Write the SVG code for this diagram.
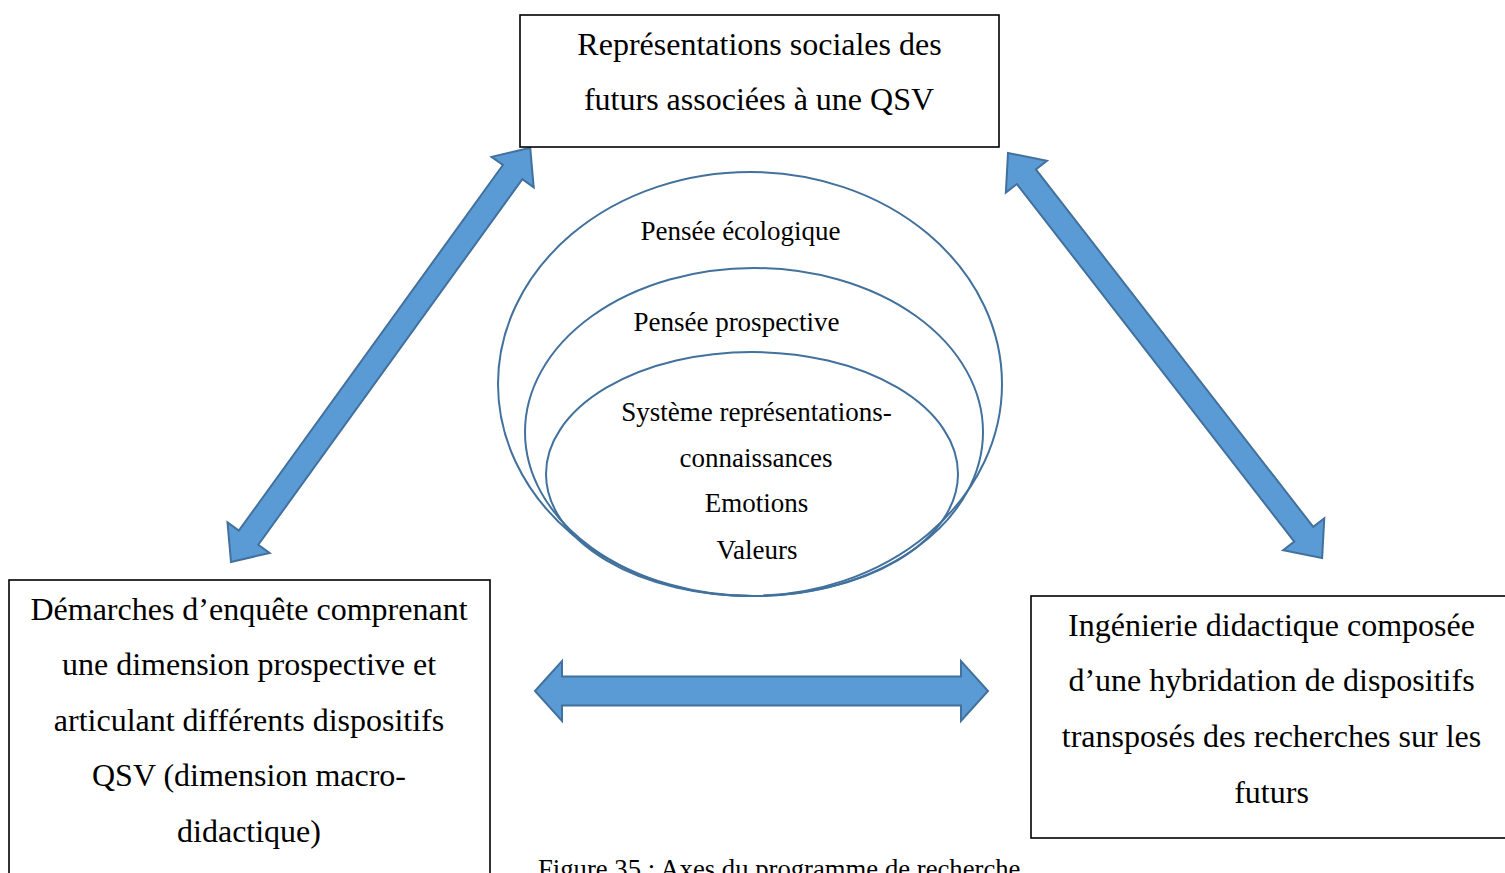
<svg xmlns="http://www.w3.org/2000/svg" width="1505" height="873" viewBox="0 0 1505 873">
<style>
.box{fill:#fff;stroke:#000;stroke-width:1.6}
.t{font-family:"Liberation Serif","Times New Roman",serif;fill:#000;text-anchor:middle}
.big{font-size:32px}
.small{font-size:27px}
.ell{fill:none;stroke:#41719C;stroke-width:2}
.arr{fill:#5B9BD5;stroke:#41719C;stroke-width:2;stroke-linejoin:miter}
</style>
<rect width="1505" height="873" fill="#fff"/>
<g id="connectors">
  <g transform="translate(231,562) rotate(-54.16)">
    <polygon class="arr" points="0,0 30,-26 30,-12 481,-12 481,-26 511,0 481,26 481,12 30,12 30,26"/>
  </g>
  <g transform="translate(1008,153) rotate(52.2)">
    <polygon class="arr" points="0,0 30,-26 30,-12 482.5,-12 482.5,-26 512.5,0 482.5,26 482.5,12 30,12 30,26"/>
  </g>
  <g transform="translate(535,691)">
    <polygon class="arr" points="0,0 27,-30 27,-14.5 426,-14.5 426,-30 453,0 426,30 426,14.5 27,14.5 27,30"/>
  </g>
</g>
<g id="node-top">
  <rect class="box" x="520" y="15" width="479" height="132"/>
  <text class="t big" x="759.5" y="55">Représentations sociales des</text>
  <text class="t big" x="759" y="110">futurs associées à une QSV</text>
</g>
<g id="node-center">
  <ellipse class="ell" cx="750" cy="384" rx="252" ry="212"/>
  <ellipse class="ell" cx="754" cy="432" rx="229" ry="164"/>
  <ellipse class="ell" cx="752" cy="474" rx="206" ry="122"/>
  <text class="t small" x="740.5" y="240">Pensée écologique</text>
  <text class="t small" x="736.5" y="331">Pensée prospective</text>
  <text class="t small" x="756.5" y="421">Système représentations-</text>
  <text class="t small" x="756" y="467">connaissances</text>
  <text class="t small" x="756.5" y="512">Emotions</text>
  <text class="t small" x="757" y="559">Valeurs</text>
</g>
<g id="node-left">
  <rect class="box" x="9" y="580" width="481" height="310"/>
  <text class="t big" x="249" y="620">Démarches d’enquête comprenant</text>
  <text class="t big" x="249" y="675">une dimension prospective et</text>
  <text class="t big" x="249" y="731">articulant différents dispositifs</text>
  <text class="t big" x="249" y="786">QSV (dimension macro-</text>
  <text class="t big" x="249" y="842">didactique)</text>
</g>
<g id="node-right">
  <rect class="box" x="1031" y="596" width="490" height="242"/>
  <text class="t big" x="1271.5" y="636">Ingénierie didactique composée</text>
  <text class="t big" x="1271.5" y="691">d’une hybridation de dispositifs</text>
  <text class="t big" x="1271.5" y="747">transposés des recherches sur les</text>
  <text class="t big" x="1271.5" y="803">futurs</text>
</g>
<g id="caption">
  <text class="t" x="538" y="878" style="text-anchor:start;font-size:26.7px">Figure 35 : Axes du programme de recherche</text>
</g>
</svg>
